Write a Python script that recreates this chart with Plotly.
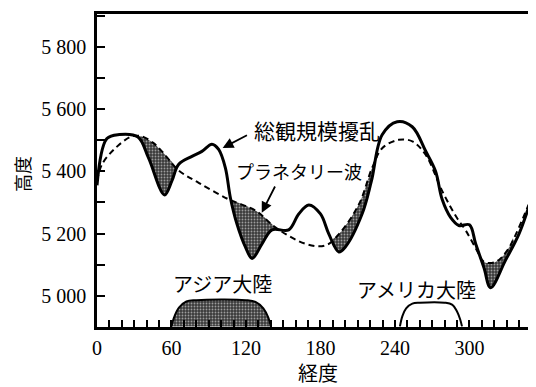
import numpy as np
import plotly.graph_objects as go

# ---- data (longitude in degrees, height in m) ----
lon_total = [0, 8, 18, 33, 41.5, 54.4, 60.3, 65.7, 76.5, 84.5, 92.6, 98, 103.4, 107.4,
             112.7, 119.5, 125, 132.9, 141, 154.4, 162.5, 170.6, 180, 186.7, 194.8, 200,
             213.5, 221, 229.7, 241.8, 253.9, 264.7, 272.7, 278, 284.8, 291.5, 300, 305,
             311.7, 317, 329, 340, 350.6]
h_total = [5355, 5505, 5518, 5510, 5443, 5324, 5369, 5422, 5448, 5464, 5487, 5470, 5411, 5316,
           5231, 5157, 5120, 5167, 5212, 5212, 5263, 5292, 5263, 5199, 5141, 5157,
           5263, 5368, 5517, 5559, 5543, 5465, 5400, 5310, 5252, 5226, 5228, 5167,
           5090, 5026, 5114, 5200, 5320]

lon_planet = [0, 4, 14.7, 28, 36, 45, 52.3, 65.7, 81.9, 106, 128, 143.7, 168, 184, 195,
              211, 221.6, 229.7, 243, 254, 264.7, 278, 290, 297, 306, 311.7, 321, 330.5,
              348, 352]
h_planet = [5369, 5422, 5474, 5512, 5512, 5492, 5464, 5403, 5363, 5310, 5273, 5220, 5167,
            5162, 5199, 5294, 5411, 5474, 5501, 5496, 5453, 5337, 5250, 5210, 5146, 5109,
            5109, 5146, 5295, 5330]

# continents outlines
asia_lon = [60, 62, 66, 72, 80, 120, 128, 134, 138, 140]
asia_h = [4902, 4930, 4962, 4982, 4986, 4986, 4980, 4960, 4930, 4902]
amer_lon = [244, 246, 249, 254, 260, 280, 286, 290, 292.5, 294]
amer_h = [4902, 4935, 4960, 4975, 4978, 4978, 4972, 4950, 4925, 4902]

# longitude intervals where the synoptic curve lies below the planetary wave
shade_ranges = [(34, 64), (107, 144), (190, 226), (305, 335)]

x_ticks = [0, 60, 120, 180, 240, 300]
y_ticks = [5000, 5200, 5400, 5600, 5800]
y_ticktext = ["5 000", "5 200", "5 400", "5 600", "5 800"]

label_total = "総観規模擾乱"
label_planet = "プラネタリー波"
label_asia = "アジア大陸"
label_amer = "アメリカ大陸"

JP = "Noto Sans CJK JP"
SERIF = "Liberation Serif"

fig = go.Figure()

stipple = dict(shape=".", fgcolor="white", bgcolor="#3a3a3a", size=3, solidity=0.3)

lt = np.array(lon_total, float); ht = np.array(h_total, float)
lp = np.array(lon_planet, float); hp = np.array(h_planet, float)
for a, b in shade_ranges:
    ms = (lt > a) & (lt < b)
    mp = (lp > a) & (lp < b)
    xs = [a] + list(lt[ms]) + [b]
    ys = [float(np.interp(a, lt, ht))] + list(ht[ms]) + [float(np.interp(b, lt, ht))]
    xp = [b] + list(lp[mp][::-1]) + [a]
    yp = [float(np.interp(b, lp, hp))] + list(hp[mp][::-1]) + [float(np.interp(a, lp, hp))]
    fig.add_trace(go.Scatter(x=xs + xp, y=ys + yp, mode="lines", fill="toself",
                             fillcolor="#3a3a3a", fillpattern=stipple,
                             line=dict(width=0, color="rgba(0,0,0,0)", shape="spline"),
                             hoverinfo="skip", showlegend=False))

fig.add_trace(go.Scatter(x=lon_planet, y=h_planet, mode="lines",
                         line=dict(color="black", width=2, dash="6px,4px", shape="spline"),
                         showlegend=False))
fig.add_trace(go.Scatter(x=lon_total, y=h_total, mode="lines",
                         line=dict(color="black", width=3, shape="spline"),
                         showlegend=False))

fig.add_trace(go.Scatter(x=asia_lon, y=asia_h, mode="lines", fill="toself",
                         fillcolor="#3a3a3a", fillpattern=stipple,
                         line=dict(color="black", width=2, shape="spline"),
                         showlegend=False))
fig.add_trace(go.Scatter(x=amer_lon, y=amer_h, mode="lines", fill="toself",
                         fillcolor="white",
                         line=dict(color="black", width=2, shape="spline"),
                         showlegend=False))

annos = [
    dict(x=124.5, y=5531, text=label_total, showarrow=False, xanchor="left", yanchor="middle",
         font=dict(family=JP, size=21, color="black")),
    dict(x=110, y=5400, text=label_planet, showarrow=False, xanchor="left", yanchor="middle",
         font=dict(family=JP, size=18, color="black")),
    dict(x=59.3, y=5039, text=label_asia, showarrow=False, xanchor="left", yanchor="middle",
         font=dict(family=JP, size=20, color="black")),
    dict(x=207.7, y=5020, text=label_amer, showarrow=False, xanchor="left", yanchor="middle",
         font=dict(family=JP, size=20, color="black")),
    dict(x=101.2, y=5475, ax=122, ay=5518, axref="x", ayref="y", text="", showarrow=True,
         arrowhead=2, arrowsize=1.2, arrowwidth=1.8, arrowcolor="black"),
    dict(x=132.7, y=5267, ax=144, ay=5356, axref="x", ayref="y", text="", showarrow=True,
         arrowhead=2, arrowsize=1.2, arrowwidth=1.8, arrowcolor="black"),
    dict(x=-0.1728, y=0.49, xref="paper", yref="paper", text="高度", textangle=-90,
         showarrow=False, xanchor="center", yanchor="middle", borderpad=0,
         font=dict(family=JP, size=18, color="black")),
    dict(x=0.5057, y=-0.1456, xref="paper", yref="paper", text="経度",
         showarrow=False, xanchor="center", yanchor="middle",
         font=dict(family=JP, size=20, color="black")),
]

# the page body adds an 8px offset; margins compensate so the plot lands where intended
fig.update_layout(
    width=536, height=387,
    margin=dict(l=89, r=10, t=3, b=68),
    paper_bgcolor="white", plot_bgcolor="white",
    annotations=annos,
    showlegend=False,
)
fig.update_xaxes(range=[0, 352], tickvals=x_ticks, ticks="inside", ticklen=7, tickwidth=1.5,
                 tickcolor="black", showline=True, linewidth=2.5, linecolor="black",
                 mirror=True, showgrid=False, zeroline=False, ticklabelstandoff=1,
                 minor=dict(tickmode="linear", tick0=0, dtick=10, ticks="inside", ticklen=7,
                            tickwidth=1.5, tickcolor="black", showgrid=False),
                 tickfont=dict(family=SERIF, size=20, color="black"))
fig.update_yaxes(range=[4900, 5905], tickvals=y_ticks, ticktext=y_ticktext, ticks="inside",
                 ticklen=8, tickwidth=1.5, tickcolor="black", showline=True, linewidth=2.5,
                 linecolor="black", mirror=True, showgrid=False, zeroline=False,
                 ticklabelstandoff=4,
                 minor=dict(tickmode="linear", tick0=5000, dtick=100, ticks="inside", ticklen=8,
                            tickwidth=1.5, tickcolor="black", showgrid=False),
                 tickfont=dict(family=SERIF, size=20, color="black"))

fig.write_html("out.html")
